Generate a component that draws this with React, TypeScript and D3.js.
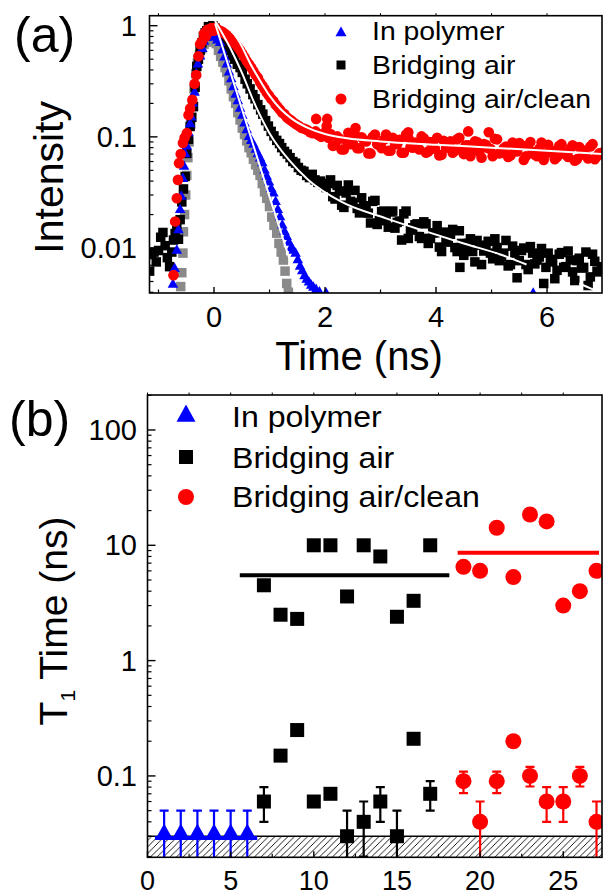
import React from 'react';
import * as d3 from 'd3';

// ---------- panel (a): time-resolved intensity ----------
const polymerDecay: [number, number][] = [
  [-0.74, 0.0047], [-0.71, 0.0065], [-0.67, 0.0095], [-0.64, 0.0145], [-0.61, 0.022], [-0.59, 0.029],
  [-0.56, 0.042], [-0.54, 0.054], [-0.52, 0.07], [-0.49, 0.082], [-0.46, 0.108], [-0.43, 0.13],
  [-0.41, 0.15], [-0.38, 0.2], [-0.35, 0.25], [-0.32, 0.37], [-0.29, 0.45], [-0.25, 0.53],
  [-0.21, 0.62], [-0.18, 0.72], [-0.14, 0.78], [-0.1, 0.8], [-0.06, 0.78], [-0.02, 0.82],
  [0.02, 0.8], [0.06, 0.74], [0.11, 0.7], [0.15, 0.6], [0.19, 0.52], [0.23, 0.45], [0.27, 0.38],
  [0.31, 0.33], [0.35, 0.28], [0.39, 0.24], [0.43, 0.21], [0.47, 0.18], [0.51, 0.155], [0.55, 0.132],
  [0.59, 0.115], [0.63, 0.1], [0.67, 0.092], [0.71, 0.085], [0.75, 0.077], [0.79, 0.07], [0.83, 0.064],
  [0.87, 0.058], [0.91, 0.05], [0.95, 0.044], [0.99, 0.039], [1.03, 0.034], [1.07, 0.031], [1.11, 0.026],
  [1.15, 0.022], [1.19, 0.019], [1.23, 0.016], [1.27, 0.014], [1.31, 0.0126], [1.35, 0.0112],
  [1.39, 0.01], [1.43, 0.0095], [1.47, 0.0089], [1.51, 0.0078], [1.55, 0.0068], [1.59, 0.0062],
  [1.63, 0.0056], [1.67, 0.0052], [1.71, 0.0049], [1.75, 0.0046], [1.79, 0.0044], [1.84, 0.0042],
  [1.9, 0.004], [2.02, 0.0039], [5.75, 0.0039],
];

// instrument response (grey squares)
const irfDecay: [number, number][] = [
  [-0.6, 0.0045], [-0.58, 0.006], [-0.56, 0.009], [-0.55, 0.014], [-0.53, 0.02], [-0.51, 0.03],
  [-0.49, 0.045], [-0.47, 0.065], [-0.45, 0.09], [-0.42, 0.13], [-0.39, 0.19], [-0.36, 0.27],
  [-0.33, 0.37], [-0.3, 0.46], [-0.26, 0.55], [-0.22, 0.62], [-0.18, 0.68], [-0.14, 0.71],
  [-0.1, 0.73], [-0.06, 0.74], [-0.02, 0.73], [0.0, 0.72], [0.04, 0.69], [0.08, 0.6], [0.12, 0.53],
  [0.16, 0.47], [0.2, 0.42], [0.23, 0.38], [0.27, 0.32], [0.31, 0.27], [0.35, 0.23], [0.39, 0.2],
  [0.43, 0.165], [0.47, 0.142], [0.51, 0.12], [0.55, 0.105], [0.59, 0.092], [0.63, 0.08], [0.67, 0.072],
  [0.71, 0.063], [0.75, 0.056], [0.79, 0.05], [0.83, 0.045], [0.87, 0.038], [0.91, 0.032], [0.95, 0.028],
  [1.0, 0.0236], [1.04, 0.019], [1.08, 0.016], [1.13, 0.0136], [1.17, 0.011], [1.21, 0.0092],
  [1.25, 0.0078], [1.28, 0.0062], [1.31, 0.0048], [1.34, 0.004],
];

const airDecay: [number, number][] = [
  [-1.16, 0.0062], [-1.12, 0.0088], [-1.08, 0.0092], [-1.04, 0.0075], [-1.0, 0.0095], [-0.96, 0.0125],
  [-0.92, 0.0138], [-0.88, 0.0105], [-0.84, 0.0082], [-0.8, 0.0068], [-0.76, 0.0092], [-0.73, 0.0118],
  [-0.7, 0.0135], [-0.67, 0.0157], [-0.64, 0.012], [-0.61, 0.018], [-0.58, 0.026], [-0.55, 0.034],
  [-0.52, 0.044], [-0.49, 0.071], [-0.46, 0.095], [-0.43, 0.124], [-0.4, 0.15], [-0.37, 0.187],
  [-0.34, 0.28], [-0.31, 0.43], [-0.28, 0.5], [-0.25, 0.6], [-0.22, 0.7], [-0.19, 0.8], [-0.16, 0.86],
  [-0.13, 0.9], [-0.1, 0.98], [-0.06, 0.95], [-0.02, 1.0],
  [0.02, 0.95], [0.06, 0.9], [0.1, 0.84], [0.14, 0.78], [0.18, 0.72], [0.23, 0.66], [0.28, 0.6],
  [0.33, 0.54], [0.37, 0.5], [0.42, 0.45], [0.47, 0.42], [0.51, 0.38], [0.56, 0.33], [0.6, 0.3],
  [0.65, 0.27], [0.7, 0.24], [0.74, 0.22], [0.79, 0.195], [0.84, 0.175], [0.88, 0.16], [0.93, 0.14],
  [0.98, 0.125], [1.03, 0.112], [1.08, 0.102], [1.13, 0.093], [1.18, 0.087], [1.22, 0.08], [1.27, 0.074],
  [1.32, 0.07], [1.37, 0.065], [1.42, 0.06], [1.47, 0.058], [1.52, 0.053], [1.57, 0.05], [1.62, 0.049],
  [1.67, 0.045], [1.72, 0.043], [1.77, 0.046], [1.82, 0.041], [1.87, 0.039], [1.92, 0.04], [1.97, 0.037],
  [2.02, 0.035], [2.06, 0.038],
  [2.1, 0.041], [2.18, 0.0276], [2.26, 0.0326], [2.34, 0.0232], [2.42, 0.0369], [2.5, 0.0257],
  [2.58, 0.0227], [2.66, 0.0283], [2.74, 0.0235], [2.82, 0.0168], [2.9, 0.0268], [2.98, 0.0184],
  [3.06, 0.0215], [3.14, 0.0154], [3.22, 0.0215], [3.3, 0.017], [3.38, 0.0118], [3.46, 0.0215],
  [3.54, 0.0145], [3.62, 0.0162], [3.7, 0.0127], [3.78, 0.0172], [3.86, 0.011], [3.94, 0.0137],
  [4.02, 0.0159], [4.1, 0.0093], [4.18, 0.0117], [4.26, 0.0133], [4.34, 0.0101], [4.42, 0.0143],
  [4.43, 0.0067], [4.5, 0.0086], [4.58, 0.011], [4.66, 0.0093], [4.74, 0.0117], [4.82, 0.0071],
  [4.9, 0.0105], [4.98, 0.009], [5.06, 0.0121], [5.14, 0.0077], [5.22, 0.009], [5.3, 0.0069],
  [5.38, 0.0104], [5.46, 0.0054], [5.54, 0.0095], [5.62, 0.0071], [5.7, 0.0103], [5.78, 0.0072],
  [5.86, 0.0083], [5.94, 0.0048], [6.02, 0.009], [6.1, 0.0075], [6.18, 0.0063], [6.26, 0.0091],
  [6.34, 0.0068], [6.42, 0.0078], [6.5, 0.0051], [6.58, 0.0081], [6.66, 0.0067], [6.74, 0.0046],
  [6.82, 0.0088], [6.9, 0.0062], [6.98, 0.0068],
  [2.14, 0.029], [2.22, 0.0366], [2.3, 0.0243], [2.38, 0.0313], [2.46, 0.0263], [2.54, 0.033],
  [2.62, 0.0207], [2.7, 0.024], [2.78, 0.0206], [2.86, 0.0263], [2.94, 0.0163], [3.02, 0.0212],
  [3.1, 0.0176], [3.18, 0.0211], [3.26, 0.0151], [3.34, 0.0175], [3.42, 0.0203], [3.5, 0.0122],
  [3.58, 0.0152], [3.66, 0.0165], [3.74, 0.0122], [3.82, 0.0165], [3.9, 0.0122], [3.98, 0.0137],
  [4.06, 0.0102], [4.14, 0.0139], [4.22, 0.0113], [4.3, 0.0147], [4.38, 0.0093], [4.46, 0.011],
  [4.54, 0.0094], [4.62, 0.0121], [4.7, 0.0075], [4.78, 0.0106], [4.86, 0.0094], [4.94, 0.0115],
  [5.02, 0.008], [5.1, 0.0101], [5.18, 0.0084], [5.26, 0.0117], [5.34, 0.0071], [5.42, 0.009],
  [5.5, 0.0077], [5.58, 0.01], [5.66, 0.0064], [5.74, 0.009], [5.82, 0.0078], [5.9, 0.0099],
  [5.98, 0.0067], [6.06, 0.0079], [6.14, 0.0053], [6.22, 0.0088], [6.3, 0.0067], [6.38, 0.0094],
  [6.46, 0.0061], [6.54, 0.0077], [6.62, 0.0066], [6.7, 0.0092], [6.78, 0.0055], [6.86, 0.0076],
  [6.94, 0.0061],
];

const cleanDecay: [number, number][] = [
  [-0.73, 0.0057], [-0.7, 0.0173], [-0.67, 0.028], [-0.65, 0.041], [-0.63, 0.058], [-0.6, 0.07],
  [-0.56, 0.088], [-0.53, 0.098], [-0.49, 0.108], [-0.46, 0.157], [-0.43, 0.18], [-0.39, 0.215],
  [-0.35, 0.3], [-0.32, 0.36], [-0.28, 0.53], [-0.25, 0.68], [-0.22, 0.72], [-0.18, 0.85],
  [-0.15, 0.8], [-0.12, 0.92], [-0.09, 0.88], [-0.05, 0.95],
  [-0.01, 0.9], [0.03, 0.96], [0.07, 0.92], [0.11, 0.9], [0.15, 0.88], [0.19, 0.85], [0.23, 0.82],
  [0.27, 0.78], [0.31, 0.76], [0.35, 0.71], [0.39, 0.68], [0.43, 0.64], [0.47, 0.6], [0.51, 0.56],
  [0.55, 0.52], [0.59, 0.48], [0.63, 0.45], [0.67, 0.42], [0.71, 0.39], [0.75, 0.36], [0.79, 0.34],
  [0.83, 0.31], [0.87, 0.29], [0.91, 0.27], [0.95, 0.25], [0.99, 0.235], [1.03, 0.22], [1.07, 0.21],
  [1.11, 0.195], [1.15, 0.185], [1.19, 0.175], [1.23, 0.165], [1.27, 0.16], [1.31, 0.15], [1.35, 0.145],
  [1.39, 0.14], [1.43, 0.135], [1.48, 0.13], [1.53, 0.125], [1.58, 0.12], [1.63, 0.118], [1.68, 0.115],
  [1.73, 0.11], [1.78, 0.108], [1.83, 0.112], [1.84, 0.145], [1.88, 0.104], [1.93, 0.1], [1.98, 0.108],
  [2.03, 0.125], [2.04, 0.145], [2.06, 0.098],
  [2.1, 0.106], [2.18, 0.084], [2.26, 0.096], [2.34, 0.077], [2.42, 0.109], [2.5, 0.088], [2.55, 0.12],
  [2.58, 0.079], [2.66, 0.099], [2.74, 0.091], [2.82, 0.071], [2.9, 0.105], [2.98, 0.084], [3.06, 0.094],
  [3.14, 0.075], [3.22, 0.098], [3.3, 0.086], [3.38, 0.072], [3.46, 0.105], [3.5, 0.11], [3.54, 0.081],
  [3.62, 0.089], [3.7, 0.077], [3.78, 0.097], [3.86, 0.074], [3.94, 0.085], [4.02, 0.098], [4.1, 0.069],
  [4.18, 0.08], [4.26, 0.091], [4.34, 0.075], [4.42, 0.098], [4.5, 0.07], [4.58, 0.112], [4.58, 0.084],
  [4.66, 0.076], [4.74, 0.09], [4.82, 0.065], [4.9, 0.085], [4.95, 0.11], [4.98, 0.078], [5.06, 0.096],
  [5.14, 0.071], [5.22, 0.079], [5.3, 0.066], [5.38, 0.089], [5.46, 0.074], [5.54, 0.084], [5.62, 0.067],
  [5.7, 0.09], [5.78, 0.069], [5.86, 0.078], [5.94, 0.062], [6.02, 0.085], [6.1, 0.074], [6.18, 0.066],
  [6.26, 0.086], [6.34, 0.069], [6.42, 0.078], [6.5, 0.061], [6.58, 0.081], [6.66, 0.07], [6.74, 0.064],
  [6.82, 0.086], [6.9, 0.067], [6.98, 0.072],
  [2.14, 0.083], [2.22, 0.101], [2.3, 0.077], [2.38, 0.093], [2.46, 0.086], [2.54, 0.105], [2.62, 0.079],
  [2.7, 0.094], [2.78, 0.071], [2.86, 0.1], [2.94, 0.086], [3.02, 0.079], [3.1, 0.105], [3.18, 0.075],
  [3.26, 0.087], [3.34, 0.094], [3.42, 0.072], [3.5, 0.098], [3.58, 0.08], [3.66, 0.085], [3.74, 0.101],
  [3.82, 0.072], [3.9, 0.09], [3.98, 0.078], [4.06, 0.068], [4.14, 0.092], [4.22, 0.083], [4.3, 0.072],
  [4.38, 0.095], [4.46, 0.077], [4.54, 0.084], [4.62, 0.067], [4.7, 0.091], [4.78, 0.073], [4.86, 0.086],
  [4.94, 0.079], [5.02, 0.067], [5.1, 0.095], [5.18, 0.072], [5.26, 0.082], [5.34, 0.068], [5.42, 0.076],
  [5.5, 0.088], [5.58, 0.062], [5.66, 0.084], [5.74, 0.073], [5.82, 0.067], [5.9, 0.089], [5.98, 0.07],
  [6.06, 0.076], [6.14, 0.063], [6.22, 0.083], [6.3, 0.072], [6.38, 0.066], [6.46, 0.084], [6.54, 0.063],
  [6.62, 0.077], [6.7, 0.068], [6.78, 0.082], [6.86, 0.063], [6.94, 0.071],
];

// fitted decays (white lines)
const polymerFit: [number, number][] = [[0.02, 1.05], [0.5, 0.18], [1.0, 0.029], [1.56, 0.0039]];
const airFit: [number, number][] = [
  [0.0, 1.15], [0.3, 0.62], [0.5, 0.38], [0.75, 0.19], [1.0, 0.108], [1.35, 0.062], [1.7, 0.041],
  [2.3, 0.026], [3.1, 0.0185], [3.8, 0.0142], [4.5, 0.011], [5.2, 0.0086], [5.63, 0.0071],
];
const airFitTail: [number, number][] = [[6.58, 0.0048], [7.0, 0.0039]];
const cleanFit: [number, number][] = [
  [0.12, 1.23], [0.3, 0.93], [0.47, 0.7], [0.65, 0.46], [0.8, 0.34], [1.0, 0.235], [1.2, 0.178],
  [1.4, 0.146], [1.7, 0.12], [2.0, 0.106], [2.4, 0.097], [3.0, 0.091], [4.0, 0.085], [5.0, 0.08],
  [6.0, 0.075], [7.0, 0.07],
];

const aXMajor = [0, 2, 4, 6];
const aXMinor = [-1, 1, 3, 5];
const aYMajor = [0.01, 0.1, 1];
const aYLabels = ['0.01', '0.1', '1'];

// ---------- panel (b): T1 per emitter ----------
const polymerIdx = [1, 2, 3, 4, 5, 6];
const polymerT1 = [0.032, 0.032, 0.032, 0.032, 0.032, 0.032];
const polymerErr: [number, number][] = [[0.014, 0.05], [0.014, 0.05], [0.014, 0.05], [0.014, 0.05], [0.014, 0.05], [0.014, 0.05]];

const airIdx = [7, 8, 9, 10, 11, 12, 13, 14, 15, 16, 17];
const airLongT1 = [4.5, 2.5, 2.3, 10, 10, 3.6, 10, 8.0, 2.4, 3.3, 10];
const airShortT1 = [0.06, 0.15, 0.25, 0.06, 0.07, 0.03, 0.04, 0.06, 0.03, 0.21, 0.07];
const airShortErr: ([number, number] | null)[] = [
  [0.04, 0.08], null, null, null, null, [0.01, 0.05], [0.02, 0.06], [0.04, 0.08], [0.01, 0.05], null, [0.05, 0.09],
];

const cleanIdx = [19, 20, 21, 22, 23, 24, 25, 26, 27];
const cleanLongT1 = [6.5, 6.0, 14.2, 5.3, 18.5, 16.1, 3.0, 4.0, 6.0];
const cleanShortT1 = [0.09, 0.04, 0.09, 0.2, 0.1, 0.06, 0.06, 0.1, 0.04];
const cleanShortErr: ([number, number] | null)[] = [
  [0.071, 0.109], [0.015, 0.06], [0.071, 0.109], null, [0.081, 0.12], [0.04, 0.08], [0.04, 0.08], [0.081, 0.12], [0.015, 0.06],
];

// mean values: [from, to, T1]
const polymerMean: [number, number, number] = [0.45, 6.6, 0.029];
const airMean: [number, number, number] = [5.55, 18.15, 5.5];
const cleanMean: [number, number, number] = [18.65, 27.15, 8.6];
const resolutionLimit: [number, number] = [0.0197, 0.03];

const bXMajor = [0, 5, 10, 15, 20, 25];
const bXMinor = [2.5, 7.5, 12.5, 17.5, 22.5];
const bYMajor = [0.1, 1, 10, 100];
const bYLabels = ['0.1', '1', '10', '100'];

const legendLabels = ['In polymer', 'Bridging air', 'Bridging air/clean'];

const BLUE = '#0000ff';
const RED = '#ff0000';
const GREY = '#8a8a8a';
const FONT = '"Liberation Sans", Arial, Helvetica, sans-serif';

const A = {left: 149.5, right: 602, top: 15.7, bottom: 293};
const B = {left: 147.5, right: 602, top: 395, bottom: 857.3};

const xa = d3.scaleLinear().domain([-1.162, 6.99]).range([A.left, A.right]);
const ya = d3.scaleLog().domain([0.00394, 1.23]).range([A.bottom, A.top]);
const xb = d3.scaleLinear().domain([0, 27.33]).range([B.left, B.right]);
const yb = d3.scaleLog().domain([0.0197, 201]).range([B.bottom, B.top]);

function tri(cx: number, cy: number, w: number) {
  const h = w * 0.9;
  return `M${cx},${cy - (h * 2) / 3}L${cx + w / 2},${cy + h / 3}L${cx - w / 2},${cy + h / 3}Z`;
}

const isMajor = (v: number) => Math.abs(Math.log10(v) - Math.round(Math.log10(v))) < 1e-6;

function Square({x, y, s, fill}: {x: number; y: number; s: number; fill: string}) {
  return <rect x={x - s / 2} y={y - s / 2} width={s} height={s} fill={fill} />;
}

export default function App() {
  const lineA = d3.line<[number, number]>().x(d => xa(d[0])).y(d => ya(d[1])).curve(d3.curveMonotoneX);

  const aMinorY = ya.ticks().filter(v => !isMajor(v));
  const bMinorY = yb.ticks().filter(v => !isMajor(v));

  const errBar = (key: string, x: number, lo: number, hi: number, color: string) => (
    <g key={key} stroke={color} strokeWidth={2.2}>
      <line x1={xb(x)} x2={xb(x)} y1={yb(lo)} y2={yb(hi)} />
      <line x1={xb(x) - 4.5} x2={xb(x) + 4.5} y1={yb(hi)} y2={yb(hi)} />
      <line x1={xb(x) - 4.5} x2={xb(x) + 4.5} y1={yb(lo)} y2={yb(lo)} />
    </g>
  );

  return (
    <svg width={604} height={895} style={{position: 'absolute', left: 0, top: 0, background: '#fff'}}
         fontFamily={FONT}>
      <defs>
        <clipPath id="clipA">
          <rect x={A.left} y={A.top} width={A.right - A.left} height={A.bottom - A.top} />
        </clipPath>
        <clipPath id="clipB">
          <rect x={B.left} y={B.top} width={B.right - B.left} height={B.bottom - B.top} />
        </clipPath>
        <pattern id="hatch" width={6.5} height={6.5} patternUnits="userSpaceOnUse">
          <path d="M-1,1 L1,-1 M0,6.5 L6.5,0 M5.5,7.5 L7.5,5.5" stroke="#000" strokeWidth={0.9} />
        </pattern>
      </defs>

      {/* ---------------- panel (a) ---------------- */}
      <text x={14} y={52} fontSize={50}>(a)</text>
      <g clipPath="url(#clipA)">
        {irfDecay.map((d, i) => <Square key={'g' + i} x={xa(d[0])} y={ya(d[1])} s={9.5} fill={GREY} />)}
        {airDecay.map((d, i) => <Square key={'k' + i} x={xa(d[0])} y={ya(d[1])} s={9.5} fill="#000" />)}
        {polymerDecay.map((d, i) => <path key={'b' + i} d={tri(xa(d[0]), ya(d[1]), 10.5)} fill={BLUE} />)}
        {cleanDecay.map((d, i) => <circle key={'r' + i} cx={xa(d[0])} cy={ya(d[1])} r={5.3} fill={RED} />)}
        <path d={lineA(polymerFit) || ''} fill="none" stroke="#fff" strokeWidth={2} />
        <path d={lineA(airFit) || ''} fill="none" stroke="#fff" strokeWidth={2} />
        <path d={lineA(airFitTail) || ''} fill="none" stroke="#fff" strokeWidth={2} />
        <path d={lineA(cleanFit) || ''} fill="none" stroke="#fff" strokeWidth={2} />
      </g>
      <rect x={A.left} y={A.top} width={A.right - A.left} height={A.bottom - A.top} fill="none" stroke="#000" strokeWidth={1.6} />
      {aYMajor.map(v => <line key={'ayM' + v} x1={A.left} x2={A.left + 8} y1={ya(v)} y2={ya(v)} stroke="#000" strokeWidth={1.4} />)}
      {aMinorY.map(v => <line key={'aym' + v} x1={A.left} x2={A.left + 4} y1={ya(v)} y2={ya(v)} stroke="#000" strokeWidth={1.2} />)}
      {aYMajor.map((v, i) => (
        <text key={'ayl' + v} x={137} y={ya(v)} dy="0.35em" textAnchor="end" fontSize={29}>{aYLabels[i]}</text>
      ))}
      {aXMajor.map(v => <line key={'axM' + v} x1={xa(v)} x2={xa(v)} y1={A.bottom} y2={A.bottom - 6} stroke="#000" strokeWidth={1.4} />)}
      {aXMinor.map(v => <line key={'axm' + v} x1={xa(v)} x2={xa(v)} y1={A.bottom} y2={A.bottom - 3.5} stroke="#000" strokeWidth={1.2} />)}
      {[...aXMajor, ...aXMinor].map(v => <line key={'axt' + v} x1={xa(v)} x2={xa(v)} y1={A.top} y2={A.top - 2.5} stroke="#000" strokeWidth={1} />)}
      {aXMajor.map(v => (
        <text key={'axl' + v} x={xa(v)} y={327} textAnchor="middle" fontSize={29}>{v}</text>
      ))}
      <text x={359} y={370} textAnchor="middle" fontSize={40}>Time (ns)</text>
      <text transform={`translate(63,${(A.top + A.bottom) / 2 + 23}) rotate(-90)`} textAnchor="middle" fontSize={41}>Intensity</text>
      {/* legend (a) */}
      <path d={tri(341, 33, 11)} fill={BLUE} />
      <Square x={341} y={65} s={9} fill="#000" />
      <circle cx={341} cy={99} r={5.5} fill={RED} />
      {legendLabels.map((t, i) => (
        <text key={'la' + i} transform={`translate(372,${[40, 74, 108][i]}) scale(1.07,1)`} fontSize={26.5}>{t}</text>
      ))}

      {/* ---------------- panel (b) ---------------- */}
      <text x={9} y={436} fontSize={50}>(b)</text>
      <rect x={B.left} y={yb(resolutionLimit[1])} width={B.right - B.left}
            height={yb(resolutionLimit[0]) - yb(resolutionLimit[1])} fill="url(#hatch)" />
      <line x1={B.left} x2={B.right} y1={yb(resolutionLimit[1])} y2={yb(resolutionLimit[1])} stroke="#000" strokeWidth={1.6} />
      <g clipPath="url(#clipB)">
        {polymerIdx.map((x, i) => errBar('pe' + i, x, polymerErr[i][0], polymerErr[i][1], BLUE))}
        {airIdx.map((x, i) => airShortErr[i] ? errBar('ae' + i, x, airShortErr[i]![0], airShortErr[i]![1], '#000') : null)}
        {cleanIdx.map((x, i) => cleanShortErr[i] ? errBar('ce' + i, x, cleanShortErr[i]![0], cleanShortErr[i]![1], RED) : null)}
        <line x1={xb(polymerMean[0])} x2={xb(polymerMean[1])} y1={yb(polymerMean[2])} y2={yb(polymerMean[2])} stroke={BLUE} strokeWidth={4} />
        <line x1={xb(airMean[0])} x2={xb(airMean[1])} y1={yb(airMean[2])} y2={yb(airMean[2])} stroke="#000" strokeWidth={4} />
        <line x1={xb(cleanMean[0])} x2={xb(cleanMean[1])} y1={yb(cleanMean[2])} y2={yb(cleanMean[2])} stroke={RED} strokeWidth={4} />
        {polymerIdx.map((x, i) => <path key={'pm' + i} d={tri(xb(x), yb(polymerT1[i]), 16)} fill={BLUE} />)}
        {airIdx.map((x, i) => <Square key={'al' + i} x={xb(x)} y={yb(airLongT1[i])} s={14} fill="#000" />)}
        {airIdx.map((x, i) => <Square key={'as' + i} x={xb(x)} y={yb(airShortT1[i])} s={14} fill="#000" />)}
        {cleanIdx.map((x, i) => <circle key={'cl' + i} cx={xb(x)} cy={yb(cleanLongT1[i])} r={8} fill={RED} />)}
        {cleanIdx.map((x, i) => <circle key={'cs' + i} cx={xb(x)} cy={yb(cleanShortT1[i])} r={8} fill={RED} />)}
      </g>
      <rect x={B.left} y={B.top} width={B.right - B.left} height={B.bottom - B.top} fill="none" stroke="#000" strokeWidth={1.6} />
      {bYMajor.map(v => <line key={'byM' + v} x1={B.left} x2={B.left + 8} y1={yb(v)} y2={yb(v)} stroke="#000" strokeWidth={1.4} />)}
      {bMinorY.map(v => <line key={'bym' + v} x1={B.left} x2={B.left + 4} y1={yb(v)} y2={yb(v)} stroke="#000" strokeWidth={1.2} />)}
      {bYMajor.map((v, i) => (
        <text key={'byl' + v} x={137} y={yb(v)} dy="0.35em" textAnchor="end" fontSize={29}>{bYLabels[i]}</text>
      ))}
      {bXMajor.map(v => <line key={'bxM' + v} x1={xb(v)} x2={xb(v)} y1={B.bottom} y2={B.bottom - 6} stroke="#000" strokeWidth={1.4} />)}
      {bXMinor.map(v => <line key={'bxm' + v} x1={xb(v)} x2={xb(v)} y1={B.bottom} y2={B.bottom - 3.5} stroke="#000" strokeWidth={1.2} />)}
      {[...bXMajor, ...bXMinor].map(v => <line key={'bxt' + v} x1={xb(v)} x2={xb(v)} y1={B.top} y2={B.top - 2.5} stroke="#000" strokeWidth={1} />)}
      {bXMajor.map(v => (
        <text key={'bxl' + v} x={xb(v)} y={890} textAnchor="middle" fontSize={27}>{v}</text>
      ))}
      <text transform={`translate(67,621) rotate(-90)`} textAnchor="middle" fontSize={39}>
        T<tspan fontSize={21} dy={8}>1</tspan><tspan dy={-8}> Time (ns)</tspan>
      </text>
      {/* legend (b) */}
      <path d={tri(186, 416, 19)} fill={BLUE} />
      <Square x={186} y={457} s={14} fill="#000" />
      <circle cx={186} cy={497} r={8} fill={RED} />
      {legendLabels.map((t, i) => (
        <text key={'lb' + i} transform={`translate(232,${[427, 468, 507][i]}) scale(1.07,1)`} fontSize={30}>{t}</text>
      ))}
    </svg>
  );
}
